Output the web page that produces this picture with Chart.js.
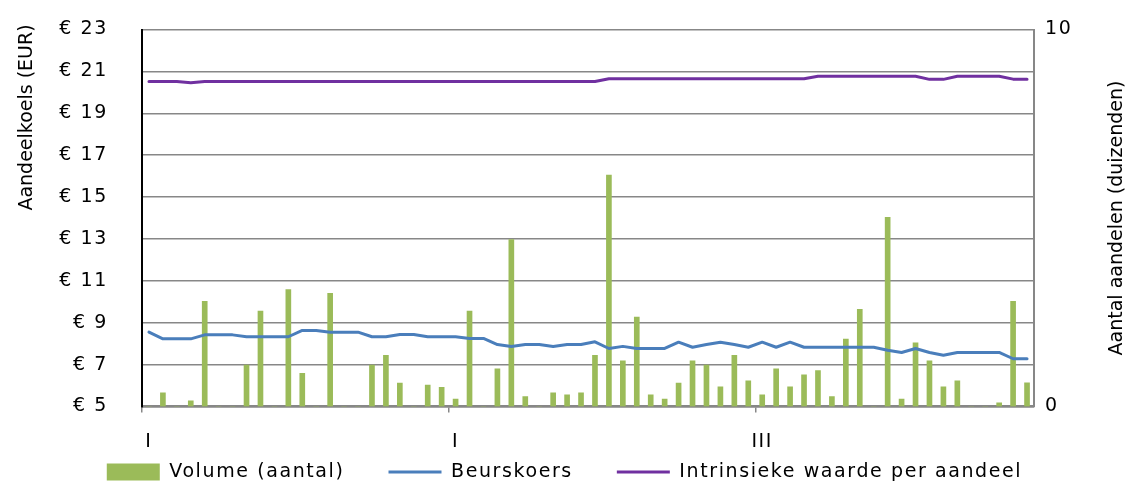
<!DOCTYPE html>
<html>
<head>
<meta charset="utf-8">
<script src="https://cdn.jsdelivr.net/npm/chart.js@4.4.1/dist/chart.umd.min.js"></script>
<style>
  html, body { margin: 0; padding: 0; background: #fff; }
  canvas { display: block; }
</style>
</head>
<body>
<canvas id="koers" width="1129" height="486"></canvas>
<script>
// Weeks on the horizontal axis
const weeks = [1, 2, 3, 4, 5, 6, 7, 8, 9, 10, 11, 12, 13, 14, 15, 16,
  17, 18, 19, 20, 21, 22, 23, 24, 25, 26, 27, 28, 29, 30, 31, 32,
  33, 34, 35, 36, 37, 38, 39, 40, 41, 42, 43, 44, 45, 46, 47, 48,
  49, 50, 51, 52, 53, 54, 55, 56, 57, 58, 59, 60, 61, 62, 63, 64];

// Traded volume per week, thousands of shares
const volume = [0, 0.36, 0, 0.15, 2.79, 0, 0, 1.10, 2.53, 0, 3.10, 0.88, 0, 3.00, 0, 0,
  1.10, 1.36, 0.62, 0, 0.57, 0.51, 0.20, 2.53, 0, 1.00, 4.43, 0.26, 0, 0.36, 0.31, 0.36,
  1.36, 6.14, 1.21, 2.37, 0.31, 0.20, 0.62, 1.21, 1.10, 0.52, 1.36, 0.68, 0.31, 1.00, 0.52, 0.84,
  0.95, 0.26, 1.79, 2.58, 0, 5.02, 0.20, 1.69, 1.21, 0.52, 0.68, 0, 0, 0.10, 2.79, 0.63];

// Share price, EUR
const beurskoers = [8.55, 8.23, 8.23, 8.23, 8.42, 8.42, 8.42, 8.33, 8.33, 8.33, 8.33, 8.63, 8.63, 8.55, 8.55, 8.55,
  8.33, 8.33, 8.44, 8.44, 8.33, 8.33, 8.33, 8.25, 8.25, 7.96, 7.87, 7.96, 7.96, 7.87, 7.96, 7.96,
  8.09, 7.77, 7.87, 7.77, 7.77, 7.77, 8.07, 7.83, 7.96, 8.07, 7.96, 7.83, 8.07, 7.83, 8.07, 7.83,
  7.83, 7.83, 7.83, 7.83, 7.83, 7.69, 7.58, 7.77, 7.58, 7.45, 7.58, 7.58, 7.58, 7.58, 7.28, 7.28];

// Intrinsic value per share, EUR
const intrinsiekeWaarde = [20.52, 20.52, 20.52, 20.46, 20.52, 20.52, 20.52, 20.52, 20.52, 20.52, 20.52, 20.52, 20.52, 20.52, 20.52, 20.52,
  20.52, 20.52, 20.52, 20.52, 20.52, 20.52, 20.52, 20.52, 20.52, 20.52, 20.52, 20.52, 20.52, 20.52, 20.52, 20.52,
  20.52, 20.65, 20.65, 20.65, 20.65, 20.65, 20.65, 20.65, 20.65, 20.65, 20.65, 20.65, 20.65, 20.65, 20.65, 20.65,
  20.77, 20.77, 20.77, 20.77, 20.77, 20.77, 20.77, 20.77, 20.62, 20.62, 20.77, 20.77, 20.77, 20.77, 20.63, 20.63];

const xTickLabels = ['I', 'I', 'III'];
const seriesNames = ['Volume (aantal)', 'Beurskoers', 'Intrinsieke waarde per aandeel'];
const leftTitle = 'Aandeelkoels (EUR)';
const rightTitle = 'Aantal aandelen (duizenden)';

const FONT = 'DejaVu Sans';
const FONT_SIZE = 19;
const TEXT_SPACING = '1.6px';
const X_TICK_STEP = 22;   // a labelled tick every 22 weeks
const GRID_GREY = '#878787';
const CLEAR = 'rgba(0,0,0,0)';

Chart.defaults.font.family = FONT;
Chart.defaults.font.size = FONT_SIZE;
Chart.defaults.color = '#000';

// Slightly wider lettering for all chart text
const letterSpacing = {
  id: 'letterSpacing',
  beforeUpdate(chart) { chart.ctx.letterSpacing = TEXT_SPACING; },
  beforeDraw(chart) { chart.ctx.letterSpacing = TEXT_SPACING; }
};

// The x axis keeps a thin layout box, but its labels get room down to the canvas
// edge; the legend is nudged a little lower.
const layoutTweaks = {
  id: 'layoutTweaks',
  afterLayout(chart) {
    chart.scales.x.bottom = chart.height;
    chart.legend.top += 5.5;
    chart.legend.bottom += 5.5;
  }
};

// Both axis titles read bottom-to-top
const axisTitles = {
  id: 'axisTitles',
  afterDraw(chart) {
    const { ctx } = chart;
    const left = chart.scales.y;
    const right = chart.scales.y1;
    const put = (text, x, y) => {
      ctx.save();
      ctx.translate(x, y);
      ctx.rotate(-Math.PI / 2);
      ctx.fillText(text, 0, 0);
      ctx.restore();
    };
    ctx.save();
    ctx.letterSpacing = '0px';
    ctx.font = FONT_SIZE + 'px "' + FONT + '"';
    ctx.fillStyle = '#000';
    ctx.textAlign = 'center';
    ctx.textBaseline = 'middle';
    put(leftTitle, left.left + 27, left.top + 88);
    put(rightTitle, right.right - 12, (right.top + right.bottom) / 2);
    ctx.restore();
  }
};

const isMajor = i => i % X_TICK_STEP === 0;

new Chart(document.getElementById('koers'), {
  data: {
    labels: weeks,
    datasets: [
      {
        type: 'bar',
        label: seriesNames[0],
        data: volume,
        yAxisID: 'y1',
        backgroundColor: '#9BBB59',
        borderWidth: 0,
        barThickness: 5,
        pointStyle: 'rect',
        order: 2
      },
      {
        type: 'line',
        label: seriesNames[1],
        data: beurskoers,
        yAxisID: 'y',
        borderColor: '#4A7EBB',
        backgroundColor: '#4A7EBB',
        borderWidth: 3,
        pointRadius: 0,
        pointStyle: 'line',
        tension: 0,
        borderJoinStyle: 'round',
        borderCapStyle: 'round',
        order: 1
      },
      {
        type: 'line',
        label: seriesNames[2],
        data: intrinsiekeWaarde,
        yAxisID: 'y',
        borderColor: '#7030A0',
        backgroundColor: '#7030A0',
        borderWidth: 3,
        pointRadius: 0,
        pointStyle: 'line',
        tension: 0,
        borderJoinStyle: 'round',
        borderCapStyle: 'round',
        order: 0
      }
    ]
  },
  options: {
    responsive: false,
    animation: false,
    events: [],
    layout: { padding: { top: 29.5, left: 0, right: 0, bottom: 0 } },
    scales: {
      x: {
        type: 'category',
        offset: true,
        afterFit(scale) { scale.height = 6.5; },
        ticks: {
          autoSkip: false,
          maxRotation: 0,
          minRotation: 0,
          padding: 18,
          callback: (value, index) => (isMajor(index) ? xTickLabels[index / X_TICK_STEP] : '')
        },
        grid: {
          offset: true,
          drawOnChartArea: false,
          drawTicks: true,
          tickLength: 6,
          lineWidth: 1.5,
          color: ctx => (isMajor(ctx.index) ? GRID_GREY : CLEAR)
        },
        border: { color: GRID_GREY, width: 2.5 }
      },
      y: {
        position: 'left',
        min: 5,
        max: 23,
        afterFit(scale) { scale.width = 142; },
        ticks: {
          stepSize: 2,
          padding: 0,
          callback: v => '€ ' + v
        },
        // invisible tick marks keep the labels clear of the axis
        grid: { color: GRID_GREY, lineWidth: 1.5, drawTicks: true, tickLength: 34, tickColor: CLEAR },
        border: { color: '#000', width: 2 }
      },
      y1: {
        position: 'right',
        min: 0,
        max: 10,
        afterFit(scale) { scale.width = 95; },
        ticks: { stepSize: 10, padding: 11 },
        grid: { display: false, drawTicks: false },
        border: { color: GRID_GREY, width: 2 }
      }
    },
    plugins: {
      tooltip: { enabled: false },
      legend: {
        position: 'bottom',
        labels: {
          usePointStyle: true,
          pointStyleWidth: 53,
          boxHeight: 17,
          padding: 44,
          color: '#000',
          sort: (a, b) => a.datasetIndex - b.datasetIndex
        }
      }
    }
  },
  plugins: [letterSpacing, layoutTweaks, axisTitles]
});
</script>
</body>
</html>
